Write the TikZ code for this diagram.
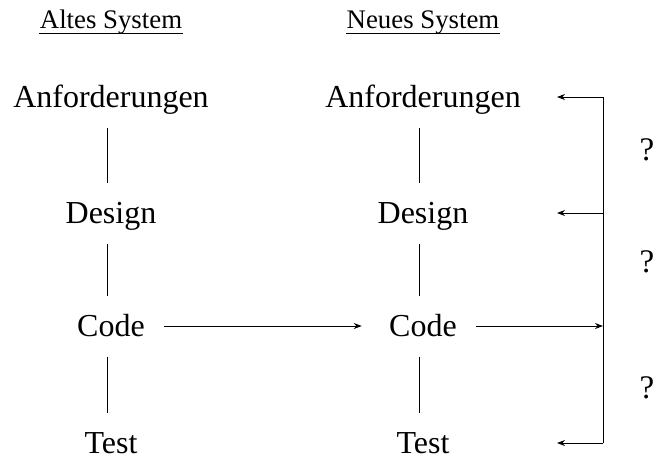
\documentclass[tikz,border=0pt]{standalone}
\usepackage{fontspec}
\setmainfont{Liberation Serif}
\usetikzlibrary{arrows.meta}
\tikzset{
  phase/.style={font=\fontsize{16}{19}\selectfont, anchor=base,
    text height=13pt, text depth=3pt, inner xsep=9.5pt, inner ysep=7pt},
  systitle/.style={font=\fontsize{13.4}{16}\selectfont, anchor=base, inner sep=0pt},
  qmark/.style={font=\fontsize{16.5}{19}\selectfont},
}
\begin{document}
\begin{tikzpicture}[x=0.5pt, y=-0.5pt, line width=0.5pt,
    >={Stealth[length=4pt,width=3pt]}]
       \useasboundingbox (0,0) rectangle (657,457);
       \node[systitle] (alt) at (111,28) {Altes System};
       \node[systitle] (neu) at (423,28) {Neues System};
       \draw ([yshift=-2.5pt]alt.base west) -- ([yshift=-2.5pt]alt.base east);
       \draw ([yshift=-2.5pt]neu.base west) -- ([yshift=-2.5pt]neu.base east);
       % altes system
       \node[phase] (a1) at (111,107) {Anforderungen};
       \node[phase] (d1) at (111,223) {Design};
       \node[phase] (c1) at (111,336) {Code};
       \node[phase] (t1) at (111,453) {Test};
       % neues system
       \node[phase] (a2) at (423,107) {Anforderungen};
       \node[phase] (d2) at (423,223) {Design};
       \node[phase] (c2) at (423,336) {Code};
       \node[phase] (t2) at (423,453) {Test};
       \draw ([xshift=-2pt]a1.south) -- ([xshift=-2pt]d1.north);
       \draw ([xshift=-2pt]d1.south) -- ([xshift=-2pt]c1.north);
       \draw ([xshift=-2pt]c1.south) -- ([xshift=-2pt]t1.north);
       \draw ([xshift=-2pt]a2.south) -- ([xshift=-2pt]d2.north);
       \draw ([xshift=-2pt]d2.south) -- ([xshift=-2pt]c2.north);
       \draw ([xshift=-2pt]c2.south) -- ([xshift=-2pt]t2.north);
       \draw[->, shorten >=4pt] (c1) -- (c2);
       % rueckkopplung
       \coordinate (rail) at (603,0);
       \coordinate (back) at (557,0);
       \draw[->] (c2) -- (rail |- c2);
       \draw (rail |- a2) -- (rail |- t2);
       \foreach \n in {a2,d2,t2}
         \draw[->] (rail |- \n) -- (back |- \n);
       \node[qmark] (q1) at (647,150) {?};
       \node[qmark] (q2) at (647,262) {?};
       \node[qmark] (q3) at (647,388) {?};
    \end{tikzpicture}
\end{document}
